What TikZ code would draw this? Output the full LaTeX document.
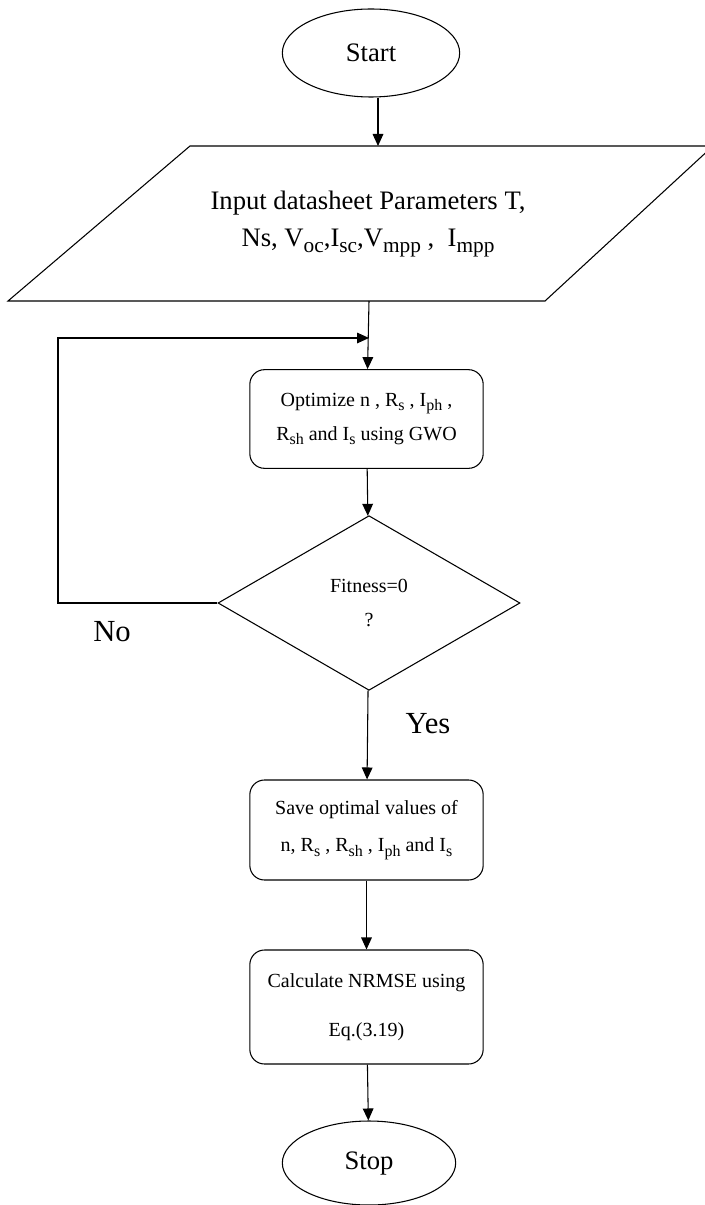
\documentclass[tikz,border=0pt]{standalone}
\usepackage{fontspec}
\setmainfont{Liberation Serif}
\usetikzlibrary{shapes.geometric,arrows.meta}
\newcommand{\sbs}[1]{\raisebox{-0.45ex}{\scalebox{0.8}{#1}}}
\begin{document}
\begin{tikzpicture}[x=0.75pt,y=-0.75pt,line width=0.8pt,>={Triangle[length=9pt,width=8pt]},
    font=\fontsize{15}{18}\selectfont]
  \tikzstyle{block}=[draw,rectangle,rounded corners=11pt,minimum width=175pt,minimum height=74pt,align=center]
  \tikzstyle{term}=[draw,ellipse,minimum width=133pt,minimum height=66pt,font=\fontsize{20}{24}\selectfont]
  \tikzstyle{lbl}=[font=\fontsize{23}{27}\selectfont]
  \useasboundingbox (0,0) rectangle (704,1205);
  \node[term] (start) at (371,53) {Start};
  % input parallelogram (runs off the right edge)
  \draw (190,146) -- (713,146) -- (545,301) -- (8,301) -- cycle;
  \coordinate (ptop) at (378,146);
  \coordinate (pbot) at (369,301);
  \node[align=center,font=\fontsize{20}{24}\selectfont] (inp) at (368,224)
    {Input datasheet Parameters T,\\[4pt]
    Ns, V\sbs{oc},I\sbs{sc},V\sbs{mpp} ,\ \ I\sbs{mpp}};
  \node[block] (opt) at (366.5,419) {Optimize n , R\sbs{s} , I\sbs{ph} ,\\[8pt]
    R\sbs{sh} and I\sbs{s} using GWO};
  \node[draw,diamond,minimum width=226.5pt,minimum height=131pt,align=center,inner sep=0pt]
    (fit) at (369,603) {Fitness=0\\[8pt]?};
  \node[block,minimum height=75pt] (save) at (366.5,830) {Save optimal values of\\[10pt]
    n, R\sbs{s} , R\sbs{sh} , I\sbs{ph} and I\sbs{s}};
  \node[block,minimum height=85.5pt] (calc) at (366.5,1007) {Calculate NRMSE using\\[19pt]Eq.(3.19)};
  \node[term,minimum width=130pt,minimum height=63pt] (stop) at (369,1163) {Stop};
  \coordinate (fb) at (58,603);
  \coordinate (jn) at (369,338);

  \draw[->] (ptop |- start.south) -- (ptop);
  \draw[->] (pbot) -- (opt);
  \draw[->] (opt) -- (fit);
  \draw[->] (fit.west) -- (fb) |- (jn);
  \draw[->] (fit) -- (save);
  \draw[->] (save) -- (calc);
  \draw[->] (calc) -- (stop);
  \node[lbl] (yes) at (428,724) {Yes};
  \node[lbl] (no) at (112,632) {No};
\end{tikzpicture}
\end{document}
